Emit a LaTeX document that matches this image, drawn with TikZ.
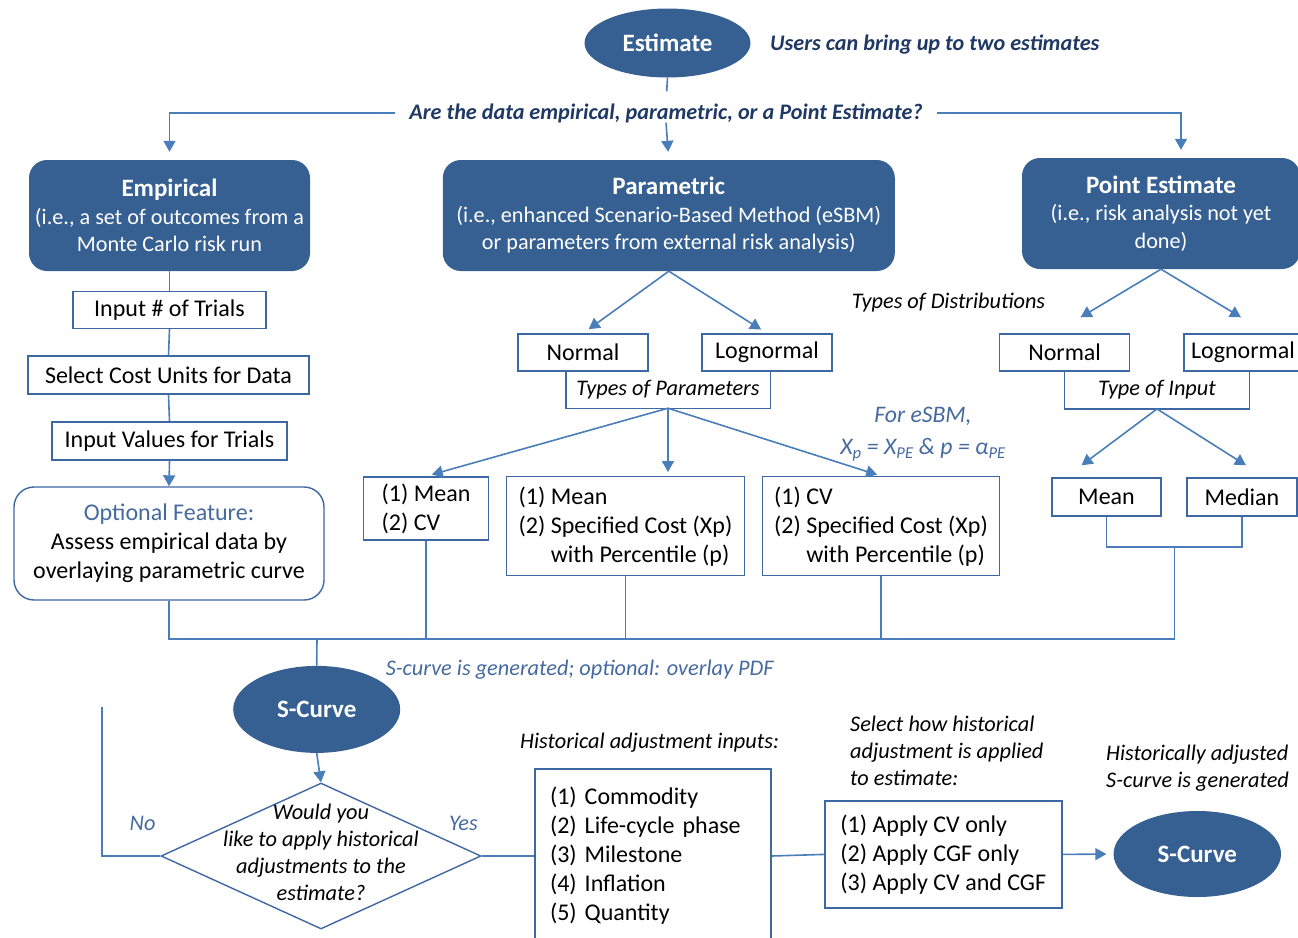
\documentclass[tikz,border=0pt]{standalone}
\usepackage{fontspec}
\setmainfont{Carlito}
\usetikzlibrary{arrows.meta,positioning,calc,shapes.geometric}
\definecolor{darkbox}{RGB}{54,96,146}
\definecolor{flowline}{RGB}{74,126,187}
\definecolor{boxline}{RGB}{62,104,164}
\definecolor{navytext}{RGB}{31,56,100}
\definecolor{notebl}{RGB}{68,106,160}
\newcommand{\boxhead}[1]{{\fontsize{25}{28}\selectfont\bfseries #1}}

\begin{document}
\begin{tikzpicture}[x=1pt, y=-1pt,
    every node/.style={font=\fontsize{24}{29}\selectfont},
    conn/.style={draw=flowline, line width=1.6pt},
    arr/.style={conn, -{Triangle[width=12pt,length=11pt]}},
    bluebox/.style={fill=darkbox, rounded corners=18pt, text=white, align=center, inner sep=0pt, font=\fontsize{22.2}{27.5}\selectfont},
    oval/.style={ellipse, fill=darkbox, text=white, inner sep=0pt, font=\fontsize{25}{28}\selectfont\bfseries},
    plainbox/.style={draw=boxline, line width=1.4pt, fill=white, align=center, inner sep=0pt},
    listbox/.style={plainbox, align=left},
    bracket/.style={draw=boxline, line width=1.4pt},
    note/.style={inner sep=0pt, font=\fontsize{22.3}{27}\selectfont\itshape},
    bluenote/.style={note, text=notebl},
    headnote/.style={inner sep=0pt, text=navytext, font=\fontsize{22.2}{26}\selectfont\bfseries\itshape}]
    \useasboundingbox (0,0) rectangle (1298,937);

    \node[oval, minimum width=166pt, minimum height=69pt] (est) at (667.5,43) {Estimate};
    \node[headnote, anchor=west] (twoest) at (770,45) {Users can bring up to two estimates};
    \node[headnote, inner xsep=14pt] (question) at (666,113) {Are the data empirical, parametric, or a Point Estimate?};

    \node[bluebox, minimum width=281pt, minimum height=111pt] (emp) at (169.5,215.5) {\boxhead{Empirical}\\(i.e., a set of outcomes from a\\Monte Carlo risk run};
    \node[bluebox, minimum width=452pt, minimum height=111pt] (par) at (668.8,215.5) {\boxhead{Parametric}\\(i.e., enhanced Scenario-Based Method (eSBM)\\or parameters from external risk analysis)};
    \node[bluebox, minimum width=278pt, minimum height=111pt] (pe) at (1161,213.5) {\boxhead{Point Estimate}\\(i.e., risk analysis not yet\\done)};

    \draw[conn, shorten >=12pt] (est.south) -- (question.north);
    \draw[arr, shorten >=8pt] (question.west) -| (emp.north);
    \draw[arr, shorten >=8pt] (question.south) -- (par.north);
    \draw[arr, shorten >=8pt] (question.east) -| ([xshift=20pt]pe.north);

    \node[plainbox, minimum width=193pt, minimum height=37pt] (trials) at (169.5,310) {Input \# of Trials};
    \node[plainbox, minimum width=281pt, minimum height=38pt] (units) at (168.5,375) {Select Cost Units for Data};
    \node[plainbox, minimum width=235pt, minimum height=38pt] (values) at (169.5,441) {Input Values for Trials};
    \node[plainbox, rounded corners=20pt, minimum width=310pt, minimum height=113pt] (optional) at (169,543.5) {\textcolor{notebl}{Optional Feature:}\\Assess empirical data by\\overlaying parametric curve};
    \draw[conn] (emp.south) -- (trials.north);
    \draw[conn] (trials.south) -- (units.north);
    \draw[conn] (units.south) -- (values.north);
    \draw[arr] (values.south) -- (optional.north);

    \node[plainbox, minimum width=130pt, minimum height=37pt] (pnorm) at (583,352.5) {Normal};
    \node[plainbox, minimum width=130pt, minimum height=37pt] (plog) at (767,352.5) {Lognormal};
    \node[note, minimum width=204pt, minimum height=37pt] (ptypes) at (668,389.5) {Types of Parameters};
    \draw[bracket] (ptypes.north west) |- (ptypes.south east) -- (ptypes.north east);
    \draw[arr, shorten >=7pt] (par.south) -- (pnorm.north);
    \draw[arr, shorten >=7pt] (par.south) -- (plog.north);
    \node[note] (distnote) at (948.5,303) {Types of Distributions};

    \node[listbox, minimum width=125pt, minimum height=63pt] (pa) at (426,508.4) {(1) Mean\\(2) CV};
    \node[listbox, minimum width=238pt, minimum height=99pt] (pb) at (625.5,526.2) {(1) Mean\\(2) Specified Cost (Xp)\\\phantom{(2) }with Percentile (p)};
    \node[listbox, minimum width=237pt, minimum height=99pt] (pc) at (881,526.2) {(1) CV\\(2) Specified Cost (Xp)\\\phantom{(2) }with Percentile (p)};
    \draw[arr, shorten >=6pt] (ptypes.south) -- (pa.north);
    \draw[arr, shorten >=4pt] (ptypes.south) -- (ptypes.south |- pb.north);
    \draw[arr, shorten >=4pt] (ptypes.south) -- (pc.north);
    \node[bluenote, align=center, font=\fontsize{23.7}{32}\selectfont\itshape] (esbm) at (923,434) {For eSBM,\\X\textsubscript{p} = X\textsubscript{PE} \& p = α\textsubscript{PE}};

    \node[plainbox, minimum width=130pt, minimum height=37pt] (qnorm) at (1064.6,352.5) {Normal};
    \node[plainbox, minimum width=130pt, minimum height=37pt] (qlog) at (1249,352.5) {\hspace*{-12pt}Lognormal};
    \node[note, minimum width=184.5pt, minimum height=37.5pt] (qtype) at (1157,390) {Type of Input};
    \draw[bracket] (qtype.north west) |- (qtype.south east) -- (qtype.north east);
    \draw[arr] (pe.south) -- ($(qnorm.north)+(16,-16)$);
    \draw[arr] (pe.south) -- ($(qlog.north)+(-8,-16)$);
    \node[plainbox, minimum width=109pt, minimum height=38pt] (qmean) at (1106.5,497) {Mean};
    \node[plainbox, minimum width=110pt, minimum height=38pt] (qmedian) at (1242,497) {Median};
    \draw[arr] (qtype.south) -- ($(qmean.north)+(-25,-12)$);
    \draw[arr] (qtype.south) -- ($(qmedian.north)+(4,-12)$);
    \coordinate (mmjoin) at (1174.5,547);
    \draw[conn] (qmean.south) |- (mmjoin) -| (qmedian.south);

    \node[oval, minimum width=167pt, minimum height=87pt] (scurve) at (316.7,709.4) {S-Curve};
    \coordinate (bus) at (317,639);
    \draw[conn] (optional.south) |- (mmjoin |- bus) -- (mmjoin);
    \draw[conn] (pa.south) -- (pa.south |- bus);
    \draw[conn] (pb.south) -- (pb.south |- bus);
    \draw[conn] (pc.south) -- (pc.south |- bus);
    \draw[conn] (bus) -- (scurve.north);
    \node[bluenote, anchor=west] (overlay) at (385.6,670) {S-curve is generated; optional: overlay PDF};

    \node[diamond, draw=boxline, line width=1.4pt, minimum width=320pt, minimum height=146pt, inner sep=0pt] (ask) at (321,856) {};
    \node[note, align=center] (asktext) at (321,852.5) {Would you\\like to apply historical\\adjustments to the\\estimate?};
    \draw[arr] (scurve.south) -- (ask.north);
    \coordinate (noend) at (102,707);
    \draw[conn] (ask.west) -| (noend);
    \node[bluenote] (nolabel) at (142.6,823) {No};
    \node[bluenote] (yeslabel) at (463.5,823) {Yes};

    \node[listbox, text width=206pt, inner xsep=15pt, minimum height=174pt] (hist) at (653,856) {(1) Commodity\\(2) Life-cycle phase\\(3) Milestone\\(4) Inflation\\(5) Quantity};
    \node[note, anchor=west] (histnote) at (520,743) {Historical adjustment inputs:};
    \node[listbox, minimum width=237pt, minimum height=107pt] (apply) at (943.3,854.4) {(1) Apply CV only\\(2) Apply CGF only\\(3) Apply CV and CGF};
    \node[note, align=left, anchor=west] (applynote) at (850,751) {Select how historical\\adjustment is applied\\to estimate:};
    \node[oval, minimum width=167.5pt, minimum height=86pt] (scurvetwo) at (1197.3,854) {S-Curve};
    \node[note, align=left, anchor=west] (adjnote) at (1106,768.5) {Historically adjusted\\S-curve is generated};
    \draw[conn] (ask.east) -- (hist.west);
    \draw[conn] (hist.east) -- (apply.west);
    \draw[arr, shorten >=7pt] (apply.east) -- (scurvetwo.west);
\end{tikzpicture}
\end{document}
